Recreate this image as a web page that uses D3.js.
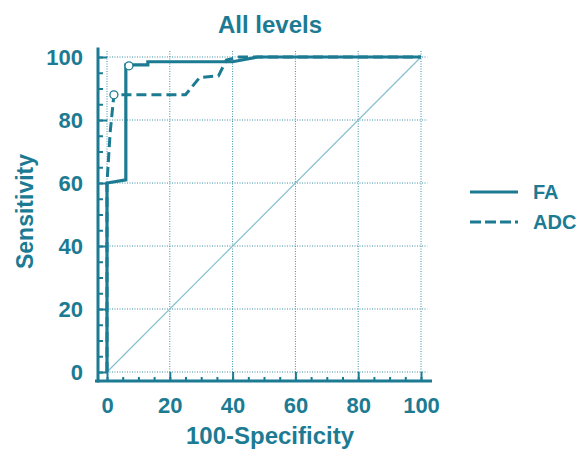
<!DOCTYPE html>
<html>
<head>
<meta charset="utf-8">
<script src="https://cdn.jsdelivr.net/npm/d3@7"></script>
<style>
  html, body { margin: 0; padding: 0; background: #fff; }
  text { font-family: "Liberation Sans", Arial, sans-serif; font-weight: bold; fill: #1c7b93; }
</style>
</head>
<body>
<div id="chart"></div>
<script>
// data
const faX = [0, 0, 6, 6, 13, 13, 40, 48, 100];
const faY = [0, 60, 61, 97.5, 97.5, 98.5, 98.5, 100, 100];
const adcX = [0, 0, 1, 2.2, 25, 29.5, 35.5, 38, 42, 100];
const adcY = [0, 60, 76, 88, 88, 93.5, 94, 99, 100, 100];
const cutoffs = [{ x: 7, y: 97.2 }, { x: 2.2, y: 88 }];
const majorTicks = [0, 20, 40, 60, 80, 100];
const minorTicks = d3.range(0, 101, 5);
const seriesNames = ["FA", "ADC"];

const mainColor = "#1c7b93";
const gridColor = "#3b90a6";
const diagColor = "#86bfce";

const width = 587, height = 450;
const svg = d3.select("#chart").append("svg").attr("width", width).attr("height", height);

const x = d3.scaleLinear().domain([0, 100]).range([107, 421]);
const y = d3.scaleLinear().domain([0, 100]).range([372, 57]);
const gap = 9;

// grid
svg.append("g").selectAll("line").data(majorTicks).join("line")
  .attr("x1", d => x(d)).attr("x2", d => x(d))
  .attr("y1", y(0)).attr("y2", y(102))
  .attr("stroke", gridColor).attr("stroke-width", 1).attr("stroke-dasharray", "1,1.5");
svg.append("g").selectAll("line").data(majorTicks).join("line")
  .attr("x1", x(0)).attr("x2", x(102))
  .attr("y1", d => y(d)).attr("y2", d => y(d))
  .attr("stroke", gridColor).attr("stroke-width", 1).attr("stroke-dasharray", "1,1.5");

// diagonal
svg.append("line")
  .attr("x1", x(0)).attr("y1", y(0)).attr("x2", x(100)).attr("y2", y(100))
  .attr("stroke", diagColor).attr("stroke-width", 1.2);

// axes
const xAxisY = y(0) + gap;
const yAxisX = x(0) - gap;

const xMinor = svg.append("g").attr("transform", `translate(0,${xAxisY})`)
  .call(d3.axisBottom(x).tickValues(minorTicks).tickSize(-4).tickFormat(""));
const xMajor = svg.append("g").attr("transform", `translate(0,${xAxisY})`)
  .call(d3.axisBottom(x).tickValues(majorTicks).tickSize(-gap).tickPadding(18).tickFormat(d3.format("d")));
const yMinor = svg.append("g").attr("transform", `translate(${yAxisX},0)`)
  .call(d3.axisLeft(y).tickValues(minorTicks).tickSize(-5).tickFormat(""));
const yMajor = svg.append("g").attr("transform", `translate(${yAxisX},0)`)
  .call(d3.axisLeft(y).tickValues(majorTicks).tickSize(-gap).tickPadding(15).tickFormat(d3.format("d")));

[xMinor, xMajor, yMinor, yMajor].forEach(g => {
  g.select(".domain").remove();
  g.selectAll(".tick line").attr("stroke", mainColor).attr("stroke-width", 2);
  g.selectAll(".tick text").style("font-size", "22px").attr("fill", mainColor);
});
xMajor.selectAll(".tick text").attr("dy", 0).attr("y", 32);
yMajor.selectAll(".tick text").attr("dy", "0.36em");

svg.append("line")
  .attr("x1", yAxisX - 3).attr("x2", x(103.5))
  .attr("y1", xAxisY).attr("y2", xAxisY)
  .attr("stroke", mainColor).attr("stroke-width", 3);
svg.append("line")
  .attr("x1", yAxisX).attr("x2", yAxisX)
  .attr("y1", xAxisY + 1.5).attr("y2", y(103))
  .attr("stroke", mainColor).attr("stroke-width", 3);

// curves
const line = d3.line().x(d => x(d[0])).y(d => y(d[1]));
svg.append("path")
  .datum(d3.zip(adcX, adcY))
  .attr("d", line)
  .attr("fill", "none").attr("stroke", mainColor).attr("stroke-width", 3)
  .attr("stroke-dasharray", "10,5");
svg.append("path")
  .datum(d3.zip(faX, faY))
  .attr("d", line)
  .attr("fill", "none").attr("stroke", mainColor).attr("stroke-width", 3.2);

svg.append("g").selectAll("circle").data(cutoffs).join("circle")
  .attr("cx", d => x(d.x)).attr("cy", d => y(d.y)).attr("r", 4)
  .attr("fill", "#fff").attr("stroke", mainColor).attr("stroke-width", 1.3);

// titles
svg.append("text").attr("x", 270).attr("y", 33).attr("text-anchor", "middle")
  .style("font-size", "24px").text("All levels");
svg.append("text").attr("x", 270).attr("y", 444).attr("text-anchor", "middle")
  .style("font-size", "24px").text("100-Specificity");
svg.append("text").attr("transform", `translate(33,${(y(0) + y(100)) / 2 - 3}) rotate(-90)`)
  .attr("text-anchor", "middle").style("font-size", "23px").text("Sensitivity");

// legend
const legend = svg.append("g").selectAll("g").data(seriesNames).join("g")
  .attr("transform", (d, i) => `translate(470,${192 + i * 30})`);
legend.append("line")
  .attr("x1", 0).attr("x2", 48).attr("y1", 0).attr("y2", 0)
  .attr("stroke", mainColor).attr("stroke-width", 3)
  .attr("stroke-dasharray", (d, i) => i === 0 ? null : "11,4");
legend.append("text").attr("x", 63).attr("y", 7)
  .style("font-size", "20px").text(d => d);
</script>
</body>
</html>
